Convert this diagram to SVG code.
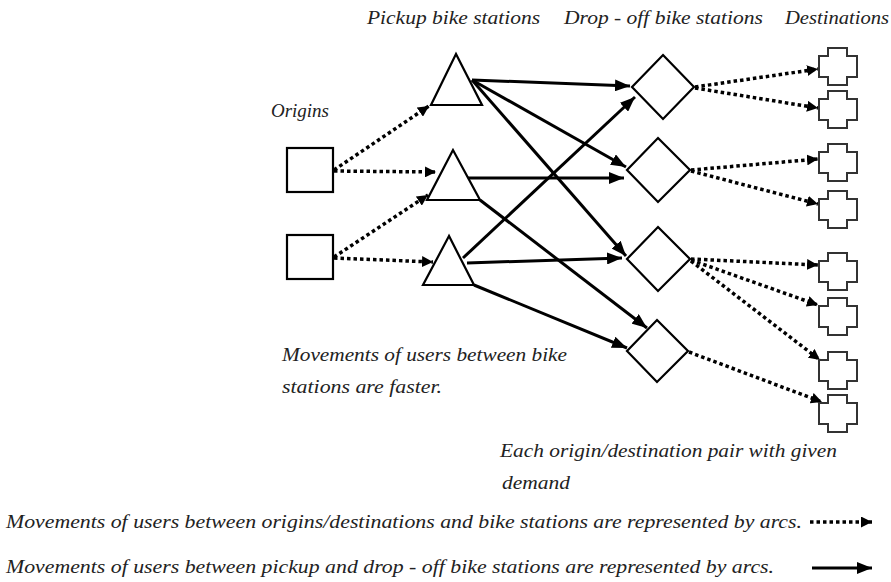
<svg xmlns="http://www.w3.org/2000/svg" width="891" height="582" viewBox="0 0 891 582">
<style>
.t{font-family:'Liberation Serif','DejaVu Serif',serif;font-style:italic;font-size:19px;fill:#222}
.n{fill:#fff;stroke:#000;stroke-width:2.2}
.c{fill:#fff;stroke:#333;stroke-width:2}
.s{fill:none;stroke:#000;stroke-width:3;marker-end:url(#ah)}
.d{fill:none;stroke:#000;stroke-width:3.5;stroke-dasharray:3.5 3;marker-end:url(#dh)}
</style>
<defs>
<marker id="ah" markerUnits="userSpaceOnUse" markerWidth="16" markerHeight="12" refX="15" refY="6" orient="auto"><path d="M0,0 L15,6 L0,12 Z" fill="#000"/></marker>
<marker id="dh" markerUnits="userSpaceOnUse" markerWidth="12" markerHeight="11" refX="11" refY="5.5" orient="auto"><path d="M0,0 L11,5.5 L0,11 Z" fill="#000"/></marker>
<path id="cross" d="M9,0 H28 V8 H38 V29 H28 V37 H9 V29 H0 V8 H9 Z"/>
</defs>
<g id="labels" font-family="Liberation Serif, serif" font-style="italic">
<text class="t" x="367" y="24" textLength="173" lengthAdjust="spacingAndGlyphs">Pickup bike stations</text>
<text class="t" x="564" y="24" textLength="199" lengthAdjust="spacingAndGlyphs">Drop - off bike stations</text>
<text class="t" x="785" y="24" textLength="104" lengthAdjust="spacingAndGlyphs">Destinations</text>
<text class="t" x="271" y="117" textLength="58" lengthAdjust="spacingAndGlyphs">Origins</text>
<text class="t" x="282" y="361" textLength="285" lengthAdjust="spacingAndGlyphs">Movements of users between bike</text>
<text class="t" x="282" y="393" textLength="160" lengthAdjust="spacingAndGlyphs">stations are faster.</text>
<text class="t" x="500" y="457" textLength="337" lengthAdjust="spacingAndGlyphs">Each origin/destination pair with given</text>
<text class="t" x="502" y="489" textLength="68" lengthAdjust="spacingAndGlyphs">demand</text>
<text class="t" x="6" y="528" textLength="796" lengthAdjust="spacingAndGlyphs">Movements of users between origins/destinations and bike stations are represented by arcs.</text>
<text class="t" x="6" y="573" textLength="768" lengthAdjust="spacingAndGlyphs">Movements of users between pickup and drop - off bike stations are represented by arcs.</text>
</g>
<g id="connectors">
<line class="d" x1="334" y1="170" x2="429" y2="106"/>
<line class="d" x1="334" y1="171" x2="436" y2="172"/>
<line class="d" x1="334" y1="257" x2="428" y2="195"/>
<line class="d" x1="334" y1="258" x2="433" y2="262"/>
<line class="d" x1="695" y1="87" x2="818" y2="69"/>
<line class="d" x1="695" y1="88" x2="818" y2="108"/>
<line class="d" x1="691" y1="170" x2="818" y2="159"/>
<line class="d" x1="691" y1="171" x2="818" y2="204"/>
<line class="d" x1="691" y1="259" x2="818" y2="265"/>
<line class="d" x1="691" y1="260" x2="818" y2="305"/>
<line class="d" x1="691" y1="261" x2="820" y2="360"/>
<line class="d" x1="689" y1="352" x2="822" y2="402"/>
<line class="s" x1="472" y1="80" x2="630" y2="86"/>
<line class="s" x1="472" y1="80" x2="626" y2="167"/>
<line class="s" x1="472" y1="80" x2="626" y2="256"/>
<line class="s" x1="468" y1="178" x2="624" y2="178"/>
<line class="s" x1="480" y1="200" x2="647" y2="328"/>
<line class="s" x1="463" y1="258" x2="635" y2="97"/>
<line class="s" x1="467" y1="263" x2="622" y2="258"/>
<line class="s" x1="474" y1="285" x2="627" y2="348"/>
</g>
<g id="legend">
<line class="d" x1="810" y1="522" x2="872" y2="522"/>
<line class="s" x1="812" y1="568" x2="872" y2="568"/>
</g>
<g id="origin1"><rect class="n" x="287" y="148" width="46" height="44"/></g>
<g id="origin2"><rect class="n" x="287" y="235" width="46" height="44"/></g>
<g id="pickup1"><polygon class="n" points="456,54 431,105 482,105"/></g>
<g id="pickup2"><polygon class="n" points="453,150 427,200 480,200"/></g>
<g id="pickup3"><polygon class="n" points="449,236 423,285 474,285"/></g>
<g id="dropoff1"><polygon class="n" points="663,55 694,87 663,119 632,87"/></g>
<g id="dropoff2"><polygon class="n" points="658,138 690,170 658,202 627,170"/></g>
<g id="dropoff3"><polygon class="n" points="658,227 690,259 658,291 627,259"/></g>
<g id="dropoff4"><polygon class="n" points="657,320 688,351 657,382 627,351"/></g>
<g id="dest1"><use href="#cross" class="c" x="819" y="48"/></g>
<g id="dest2"><use href="#cross" class="c" x="819" y="91"/></g>
<g id="dest3"><use href="#cross" class="c" x="819" y="144"/></g>
<g id="dest4"><use href="#cross" class="c" x="819" y="191"/></g>
<g id="dest5"><use href="#cross" class="c" x="819" y="253"/></g>
<g id="dest6"><use href="#cross" class="c" x="819" y="298"/></g>
<g id="dest7"><use href="#cross" class="c" x="819" y="352"/></g>
<g id="dest8"><use href="#cross" class="c" x="819" y="395"/></g>
</svg>
